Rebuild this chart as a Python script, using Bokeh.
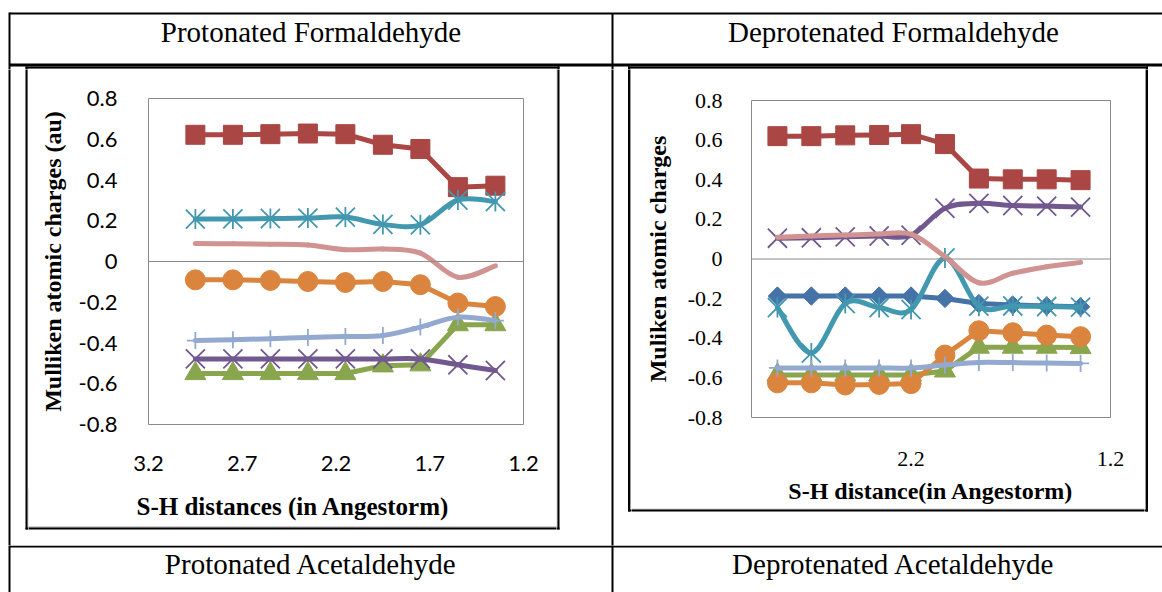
import numpy as np
from bokeh.plotting import figure
from bokeh.layouts import column, row
from bokeh.models import Range1d, FixedTicker, Span
from bokeh.embed import file_html
from bokeh.resources import INLINE

# ---------------- data ----------------
# Protonated formaldehyde (left chart)
pf_dist     = [2.95, 2.75, 2.55, 2.35, 2.15, 1.95, 1.75, 1.55, 1.35]
pf_square   = [0.622, 0.622, 0.625, 0.628, 0.625, 0.573, 0.552, 0.365, 0.372]
pf_triangle = [-0.55, -0.55, -0.55, -0.55, -0.55, -0.512, -0.507, -0.31, -0.31]
pf_xmark    = [-0.478, -0.478, -0.478, -0.478, -0.478, -0.478, -0.478, -0.507, -0.535]
pf_asterisk = [0.208, 0.209, 0.211, 0.213, 0.218, 0.182, 0.180, 0.302, 0.294]
pf_circle   = [-0.090, -0.090, -0.093, -0.098, -0.103, -0.098, -0.114, -0.204, -0.221]
pf_plus     = [-0.388, -0.384, -0.379, -0.373, -0.368, -0.363, -0.322, -0.273, -0.290]
pf_plain    = [0.088, 0.087, 0.085, 0.081, 0.058, 0.061, 0.041, -0.077, -0.021]

# Deprotonated formaldehyde (right chart)
df_dist     = [2.87, 2.70, 2.53, 2.36, 2.20, 2.03, 1.86, 1.69, 1.52, 1.35]
df_diamond  = [-0.187, -0.187, -0.187, -0.187, -0.187, -0.199, -0.225, -0.232, -0.237, -0.241]
df_square   = [0.620, 0.620, 0.624, 0.626, 0.630, 0.580, 0.406, 0.402, 0.402, 0.398]
df_triangle = [-0.585, -0.585, -0.585, -0.585, -0.585, -0.565, -0.445, -0.445, -0.445, -0.447]
df_xmark    = [0.105, 0.107, 0.112, 0.116, 0.120, 0.256, 0.281, 0.270, 0.267, 0.262]
df_asterisk = [-0.245, -0.475, -0.225, -0.245, -0.255, 0.005, -0.238, -0.237, -0.240, -0.243]
df_circle   = [-0.625, -0.625, -0.636, -0.633, -0.629, -0.485, -0.362, -0.372, -0.384, -0.392]
df_plus     = [-0.550, -0.550, -0.550, -0.550, -0.550, -0.535, -0.522, -0.523, -0.525, -0.527]
df_plain    = [0.110, 0.116, 0.121, 0.126, 0.125, 0.012, -0.120, -0.072, -0.039, -0.017]

y_ticks = [-0.8, -0.6, -0.4, -0.2, 0, 0.2, 0.4, 0.6, 0.8]
y_tick_labels = ["-0.8", "-0.6", "-0.4", "-0.2", "0", "0.2", "0.4", "0.6", "0.8"]
pf_x_ticks = [3.2, 2.7, 2.2, 1.7, 1.2]
pf_x_tick_labels = ["3.2", "2.7", "2.2", "1.7", "1.2"]
df_x_ticks = [2.2, 1.2]
df_x_tick_labels = ["2.2", "1.2"]

header_left = "Protonated Formaldehyde"
header_right = "Deprotenated Formaldehyde"
footer_left = "Protonated Acetaldehyde"
footer_right = "Deprotenated Acetaldehyde"
pf_xtitle = "S-H distances (in Angestorm)"
pf_ytitle = "Mulliken atomic charges (au)"
df_xtitle = "S-H distance(in Angestorm)"
df_ytitle = "Muliken atomic charges"

# ---------------- styles ----------------
STYLE = {
    "diamond":  dict(color="#4572A7", marker="square", size=13, angle=np.pi / 4, fill=True, smooth=False),
    "square":   dict(color="#AA4643", marker="square", size=19, angle=0.0, fill=True, smooth=False),
    "triangle": dict(color="#89A54E", marker="triangle", size=21, angle=0.0, fill=True, smooth=False),
    "xmark":    dict(color="#71588F", marker="x", size=27, angle=0.0, fill=False, smooth=True),
    "asterisk": dict(color="#4198AF", marker="x", size=27, angle=0.0, fill=False, smooth=True),
    "circle":   dict(color="#DB843D", marker="circle", size=20, angle=0.0, fill=True, smooth=False),
    "plus":     dict(color="#93A9CF", marker="cross", size=17, angle=0.0, fill=False, smooth=True),
    "plain":    dict(color="#D19392", marker=None, size=0, angle=0.0, fill=False, smooth=True),
}
LINE_W = 5
SERIF = "Liberation Serif"


def smooth_parts(xs, ys, t=1.0 / 6.0):
    n = len(xs)
    d = {k: [] for k in ("x0", "y0", "x1", "y1", "cx0", "cy0", "cx1", "cy1")}
    for i in range(n - 1):
        xp, yp = (xs[i - 1], ys[i - 1]) if i > 0 else (xs[i], ys[i])
        xn, yn = (xs[i + 2], ys[i + 2]) if i + 2 < n else (xs[i + 1], ys[i + 1])
        d["x0"].append(xs[i]); d["y0"].append(ys[i])
        d["x1"].append(xs[i + 1]); d["y1"].append(ys[i + 1])
        d["cx0"].append(xs[i] + (xs[i + 1] - xp) * t)
        d["cy0"].append(ys[i] + (ys[i + 1] - yp) * t)
        d["cx1"].append(xs[i + 1] - (xn - xs[i]) * t)
        d["cy1"].append(ys[i + 1] - (yn - ys[i]) * t)
    return d


def draw_series(p, xs, ys, key):
    st = STYLE[key]
    if st["smooth"]:
        p.bezier(**smooth_parts(xs, ys), line_color=st["color"], line_width=LINE_W, line_cap="round")
    else:
        p.line(xs, ys, line_color=st["color"], line_width=LINE_W, line_join="round", line_cap="round")
    if st["marker"]:
        p.scatter(xs, ys, marker=st["marker"], size=st["size"], angle=st["angle"],
                  fill_color=st["color"] if st["fill"] else None,
                  line_color=st["color"], line_width=1.8 if not st["fill"] else 1)
    if key == "asterisk":
        p.scatter(xs, ys, marker="dash", size=20, angle=np.pi / 2,
                  line_color=st["color"], line_width=1.8)


def make_chart(w, h, borders, xr, x_ticks, x_labels, tick_font, tick_size,
               y_std, x_std, ytitle, ytitle_std, xtitle=None, xtitle_std=0):
    bl, br, bt, bb = borders
    p = figure(width=w, height=h, x_range=Range1d(*xr), y_range=Range1d(-0.8, 0.8),
               output_backend="svg", toolbar_location=None, frame_align=False,
               min_border_left=bl, min_border_right=br, min_border_top=bt, min_border_bottom=bb)
    p.grid.visible = False
    p.outline_line_color = "#8a8a8a"
    p.outline_line_width = 1
    p.background_fill_color = "white"
    p.border_fill_color = "white"
    for ax in (p.xaxis[0], p.yaxis[0]):
        ax.axis_line_color = None
        ax.major_tick_line_color = None
        ax.minor_tick_line_color = None
        ax.major_label_text_font = tick_font
        ax.major_label_text_font_size = tick_size
        ax.major_label_text_color = "#000000"
        ax.axis_label_text_font = SERIF
        ax.axis_label_text_font_style = "bold"
        ax.axis_label_text_font_size = "24px"
        ax.axis_label_text_color = "#000000"
    p.yaxis.ticker = FixedTicker(ticks=y_ticks)
    p.yaxis.major_label_overrides = {t: l for t, l in zip(y_ticks, y_tick_labels)}
    p.yaxis.major_label_standoff = y_std
    p.xaxis.ticker = FixedTicker(ticks=x_ticks)
    p.xaxis.major_label_overrides = {t: l for t, l in zip(x_ticks, x_labels)}
    p.xaxis.major_label_standoff = x_std
    p.yaxis.axis_label = ytitle
    p.yaxis.axis_label_standoff = ytitle_std
    if xtitle:
        p.xaxis.axis_label = xtitle
        p.xaxis.axis_label_standoff = xtitle_std
    p.add_layout(Span(location=0, dimension="width", line_color="#8a8a8a", line_width=1))
    return p


# ---------------- charts ----------------
left = make_chart(528, 419, (120, 33, 29, 64), (3.2, 1.2), pf_x_ticks, pf_x_tick_labels,
                  "Lato", "22px", 25, 25, pf_ytitle, 10)
for ys, key in [(pf_square, "square"), (pf_triangle, "triangle"), (pf_xmark, "xmark"),
                (pf_asterisk, "asterisk"), (pf_circle, "circle"), (pf_plus, "plus"),
                (pf_plain, "plain")]:
    draw_series(left, pf_dist, ys, key)

right = make_chart(513, 439, (120, 34, 31, 91), (3.0, 1.2), df_x_ticks, df_x_tick_labels,
                   SERIF, "22px", 23, 28, df_ytitle, 14, df_xtitle, 9)
for ys, key in [(df_diamond, "diamond"), (df_square, "square"), (df_triangle, "triangle"),
                (df_xmark, "xmark"), (df_asterisk, "asterisk"), (df_circle, "circle"),
                (df_plus, "plus"), (df_plain, "plain")]:
    draw_series(right, df_dist, ys, key)

# ---------------- table frame (page pixel coordinates) ----------------
black = [  # x0, y0, x1, y1, width
    (9, 13, 1162, 13, 2), (9, 64.5, 1162, 64.5, 3), (9, 12, 9, 592, 2),
    (612, 13, 612, 592, 2), (9, 546, 1162, 546, 2),
    (25, 67, 559, 67, 2), (25, 528, 559, 528, 2), (26, 66, 26, 529, 2), (558, 66, 558, 529, 2),
    (627.5, 67, 1147.5, 67, 2), (627.5, 510, 1147.5, 510, 2),
    (628.5, 66, 628.5, 511, 2), (1146.5, 66, 1146.5, 511, 2),
]
gray = [
    (27, 68.5, 557, 68.5, 1), (27, 526.5, 557, 526.5, 1), (27.5, 68, 27.5, 527, 1), (556.5, 68, 556.5, 527, 1),
    (629.5, 68.5, 1145.5, 68.5, 1), (629.5, 508.5, 1145.5, 508.5, 1),
    (630, 68, 630, 509, 1), (1145, 68, 1145, 509, 1),
]


def tile(x0, x1, y0, y1, texts=()):
    p = figure(width=x1 - x0, height=y1 - y0, x_range=Range1d(x0, x1), y_range=Range1d(y1, y0),
               output_backend="svg", toolbar_location=None, min_border=0, frame_align=False,
               x_axis_type=None, y_axis_type=None)
    p.outline_line_color = None
    p.background_fill_color = "white"
    p.border_fill_color = "white"
    for segs, col in ((gray, "#a0a0a0"), (black, "#000000")):
        p.segment(x0=[s[0] for s in segs], y0=[s[1] for s in segs],
                  x1=[s[2] for s in segs], y1=[s[3] for s in segs],
                  line_color=col, line_width=[s[4] for s in segs])
    for (tx, ty, tt, align, size, style) in texts:
        p.text(x=[tx], y=[ty], text=[tt], text_align=align, text_baseline="alphabetic",
               text_font={"value": SERIF}, text_font_size=size, text_font_style=style,
               text_color="#000000")
    return p


header = tile(0, 1162, 0, 69, [(310.5, 31, header_left, "center", "29px", "normal"),
                               (893, 31, header_right, "center", "29px", "normal")])
footer = tile(0, 1162, 545, 592, [(310.5, 563, footer_left, "center", "29px", "normal"),
                                  (893, 563, footer_right, "center", "29px", "normal")])
stripA = tile(0, 28, 69, 545)
stripLB = tile(28, 556, 488, 545, [(136, 506, pf_xtitle, "left", "25px", "bold")])
stripM = tile(556, 631, 69, 545)
stripRB = tile(631, 1144, 508, 545)
stripR = tile(1144, 1162, 69, 545)

middle = row(stripA, column(left, stripLB, spacing=0), stripM,
             column(right, stripRB, spacing=0), stripR, spacing=0)
page = column(header, middle, footer, spacing=0)

open("out.html", "w").write(file_html(page, INLINE))
